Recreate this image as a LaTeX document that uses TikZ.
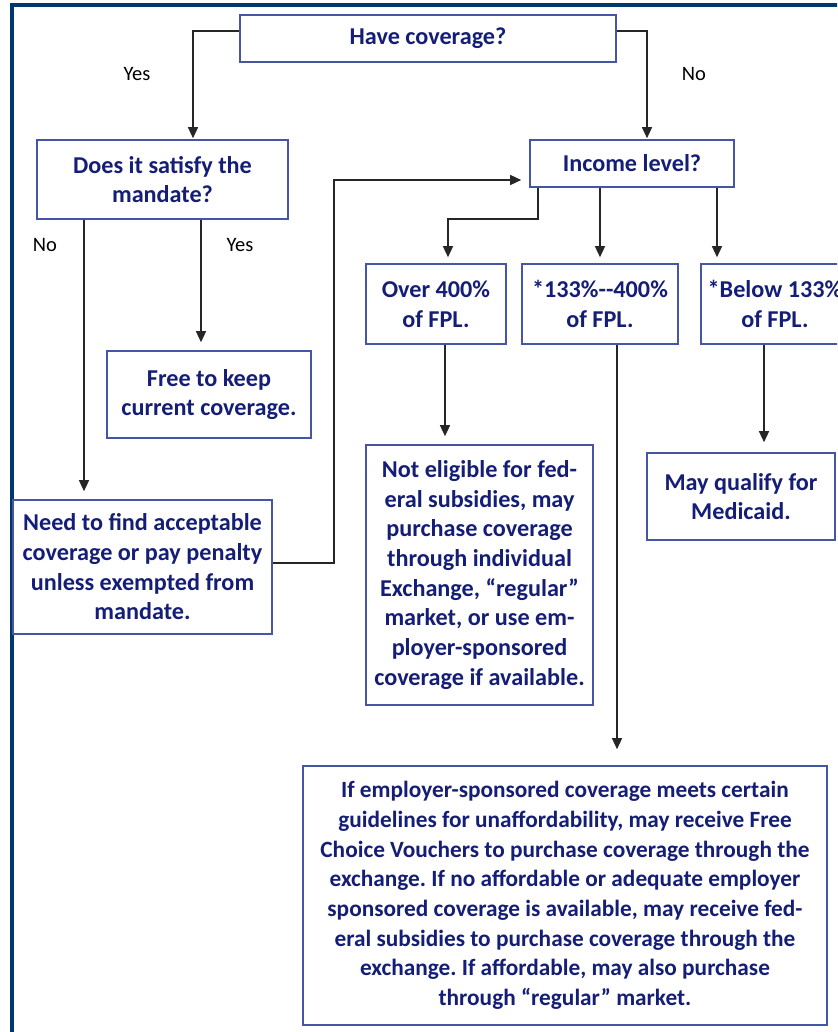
\documentclass[tikz,border=0pt]{standalone}
\usepackage{fontspec}
\setmainfont{Carlito}
\usetikzlibrary{arrows.meta}
\definecolor{navytext}{RGB}{20,30,118}
\definecolor{boxline}{RGB}{70,85,165}
\definecolor{framecol}{RGB}{0,56,110}
\frenchspacing
\begin{document}
\begin{tikzpicture}[x=1pt,y=-1pt,
  fbox/.style={draw=boxline,line width=1.6pt,inner sep=0pt,align=center,
    text=navytext,font=\fontsize{24.2}{29.7}\selectfont\bfseries\frenchspacing},
  lbl/.style={inner sep=0pt,font=\fontsize{20.5}{24}\selectfont,text=black},
  arr/.style={draw=black!85,line width=1.3pt,-{Triangle[width=10pt,length=11pt]}},
  ln/.style={draw=black!85,line width=1.3pt}]
\useasboundingbox (0,0) rectangle (837,1032);
\clip (0,0) rectangle (837,1032);
\fill[white] (0,0) rectangle (837,1032);
\draw[framecol,line width=3.2pt] (12,5) rectangle (900,1100);

\node[fbox,minimum width=376pt,minimum height=47pt] (have) at (428,38.5) {Have coverage?};
\node[fbox,minimum width=251pt,minimum height=79pt] (sat) at (162.5,179.5) {Does it satisfy the\\mandate?};
\node[fbox,minimum width=204pt,minimum height=47pt] (inc) at (632,163.5) {Income level?};
\node[fbox,minimum width=140pt,minimum height=80pt] (over) at (436,304) {Over 400\%\\of FPL.};
\node[fbox,minimum width=156pt,minimum height=80pt] (mid) at (600,304) {*133\%-{}-400\%\\of FPL.};
\node[fbox,minimum width=148pt,minimum height=80pt] (below) at (775,304) {*Below 133\%\\of FPL.};
\node[fbox,minimum width=204pt,minimum height=87pt] (free) at (209,394.5) {Free to keep\\current coverage.};
\node[fbox,minimum width=259pt,minimum height=134pt] (need) at (142.5,567) {Need to find acceptable\\coverage or pay penalty\\unless exempted from\\mandate.};
\node[fbox,minimum width=227pt,minimum height=260pt] (noteg) at (479.5,575) {Not eligible for fed-\\eral subsidies, may\\purchase coverage\\through individual\\Exchange, “regular”\\market, or use em-\\ployer-sponsored\\coverage if available.};
\node[fbox,minimum width=188pt,minimum height=87pt] (may) at (741,496.5) {May qualify for\\Medicaid.};
\node[fbox,minimum width=524pt,minimum height=259pt,font=\fontsize{23.3}{29.7}\selectfont\bfseries\frenchspacing] (bot) at (565,895.5) {If employer-sponsored coverage meets certain\\guidelines for unaffordability, may receive Free\\Choice Vouchers to purchase coverage through the\\exchange. If no affordable or adequate employer\\sponsored coverage is available, may receive fed-\\eral subsidies to purchase coverage through the\\exchange. If affordable, may also purchase\\through “regular” market.};

\node[lbl] (yes1) at (137,74) {Yes};
\node[lbl] (no1) at (694,74) {No};
\node[lbl] (no2) at (45,245) {No};
\node[lbl] (yes2) at (240,245) {Yes};

\draw[arr,shorten >=1pt] (have.west |- 0,31) -| (sat.north -| 193,0);
\draw[arr,shorten >=1pt] (have.east |- 0,31) -| (inc.north -| 647,0);
\draw[arr,shorten >=8pt] (sat.south -| 84,0) -- (need.north -| 84,0);
\draw[arr,shorten >=8pt] (sat.south -| 201,0) -- (free.north -| 201,0);
\draw[arr,shorten >=8pt] (need.east |- 0,563) -| (334,180) -- (inc.west |- 0,180);
\draw[arr,shorten >=6pt] (inc.south -| 538,0) |- (448,219) -- (over.north -| 448,0);
\draw[arr,shorten >=6pt] (inc.south -| 600,0) -- (mid.north -| 600,0);
\draw[arr,shorten >=6pt] (inc.south -| 717,0) -- (below.north -| 717,0);
\draw[arr,shorten >=8pt] (over.south -| 445,0) -- (noteg.north -| 445,0);
\draw[arr,shorten >=16pt] (mid.south -| 617,0) -- (bot.north -| 617,0);
\draw[arr,shorten >=10pt] (below.south -| 764,0) -- (may.north -| 764,0);
\end{tikzpicture}
\end{document}
